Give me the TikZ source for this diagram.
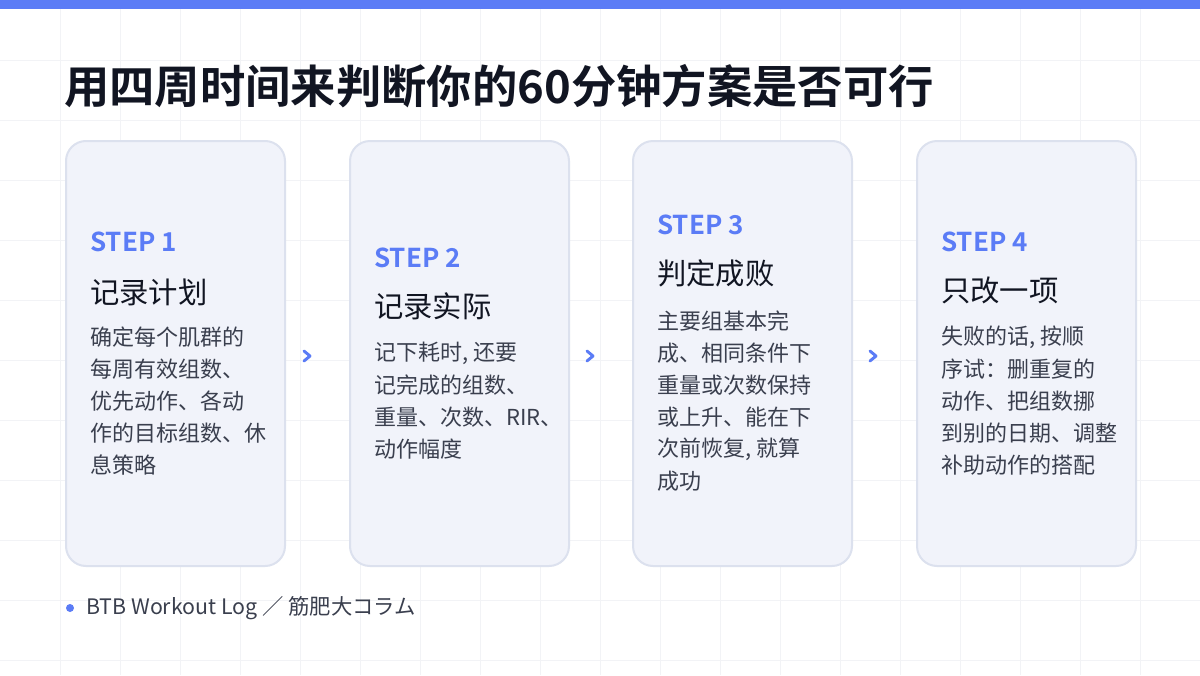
\documentclass[tikz,border=0pt]{standalone}
\usepackage{fontspec}
\setmainfont{Noto Sans CJK SC}
\newfontfamily\cjkb{Noto Sans CJK SC Bold}
\definecolor{accent}{HTML}{5B7CF6}
\definecolor{cardfill}{HTML}{F1F3FA}
\definecolor{cardline}{HTML}{DCE1EE}
\definecolor{ink}{HTML}{111522}
\definecolor{body}{HTML}{3A3F4E}
\definecolor{gridc}{HTML}{F2F3F6}
\begin{document}
\begin{tikzpicture}[x=0.75pt,y=-0.75pt,
  card/.style={draw=cardline,line width=1.5pt,fill=cardfill,rounded corners=15pt,minimum width=164.25pt,minimum height=318.75pt,anchor=north west},
  stp/.style={anchor=west,text=accent,font=\cjkb\fontsize{19.5}{22}\selectfont,inner sep=0},
  ttl/.style={anchor=west,text=ink,font=\fontsize{22}{26}\selectfont,inner sep=0},
  bd/.style={anchor=west,text=body,font=\fontsize{16.5}{19}\selectfont,inner sep=0},
  chev/.style={draw=accent,line width=2.2pt,line cap=round,line join=round}]
\useasboundingbox (0,0) rectangle (1200,675);
\fill[white] (0,0) rectangle (1200,675);
\foreach \i in {1,...,19} \draw[gridc,line width=0.6pt] (\i*60,0) -- (\i*60,675);
\foreach \j in {1,...,11} \draw[gridc,line width=0.6pt] (0,\j*60) -- (1200,\j*60);
\fill[accent] (0,0) rectangle (1200,9);
\node[anchor=west,text=ink,inner sep=0,font=\cjkb\fontsize{34}{38}\selectfont] (title) at (64,86) {用四周时间来判断你的60分钟方案是否可行};
% cards
\node[card] (c1) at (65,140) {};
\node[card] (c2) at (349,140) {};
\node[card] (c3) at (632,140) {};
\node[card] (c4) at (916,140) {};
% card 1
\node[stp] (s1) at (90,242) {STEP 1};
\node[ttl] (t1) at (90,292) {记录计划};
\foreach \l [count=\k from 0] in {确定每个肌群的,每周有效组数、,优先动作、各动,作的目标组数、休,息策略}
  \node[bd] (b1\k) at (90,337+32*\k) {\l};
% card 2
\node[stp] (s2) at (374,258) {STEP 2};
\node[ttl] (t2) at (374,306) {记录实际};
\foreach \l [count=\k from 0] in {{记下耗时, 还要},记完成的组数、,重量、次数、RIR、,动作幅度}
  \node[bd] (b2\k) at (374,353+32*\k) {\l};
% card 3
\node[stp] (s3) at (657,225) {STEP 3};
\node[ttl] (t3) at (657,273) {判定成败};
\foreach \l [count=\k from 0] in {主要组基本完,成、相同条件下,重量或次数保持,或上升、能在下,{次前恢复, 就算},成功}
  \node[bd] (b3\k) at (657,321+32*\k) {\l};
% card 4
\node[stp] (s4) at (941,242) {STEP 4};
\node[ttl] (t4) at (941,290) {只改一项};
\foreach \l [count=\k from 0] in {{失败的话, 按顺},序试：删重复的,动作、把组数挪,到别的日期、调整,补助动作的搭配}
  \node[bd] (b4\k) at (941,337+32*\k) {\l};
% chevrons
\foreach \cx/\n in {307/a1,590/a2,873/a3}{
  \coordinate (\n) at (\cx,356);
  \draw[chev] ([shift={(-3,-5)}]\n) -- ([shift={(3,0)}]\n) -- ([shift={(-3,5)}]\n);
}
% footer
\fill[accent] (70,608) circle (4);
\node[anchor=west,text=body,inner sep=0,font=\fontsize{16}{19}\selectfont] (foot) at (86,608) {BTB Workout Log ／ 筋肥大コラム};
\end{tikzpicture}
\end{document}
